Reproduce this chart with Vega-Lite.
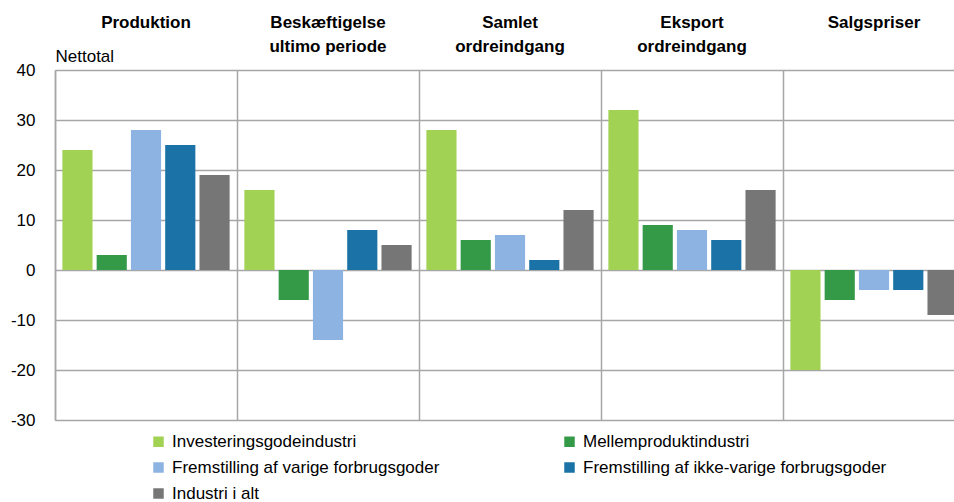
{
  "$schema": "https://vega.github.io/schema/vega-lite/v6.json",
  "width": 899,
  "height": 350,
  "autosize": {"type": "none"},
  "padding": {"left": 55, "top": 70, "right": 0, "bottom": 82},
  "background": "white",
  "config": {"font": "Liberation Sans", "view": {"stroke": null}},
  "data": {
    "values": [
      {"gruppe": "Produktion", "serie": "Investeringsgodeindustri", "vaerdi": 24},
      {"gruppe": "Produktion", "serie": "Mellemproduktindustri", "vaerdi": 3},
      {"gruppe": "Produktion", "serie": "Fremstilling af varige forbrugsgoder", "vaerdi": 28},
      {"gruppe": "Produktion", "serie": "Fremstilling af ikke-varige forbrugsgoder", "vaerdi": 25},
      {"gruppe": "Produktion", "serie": "Industri i alt", "vaerdi": 19},
      {"gruppe": "Beskæftigelse ultimo periode", "serie": "Investeringsgodeindustri", "vaerdi": 16},
      {"gruppe": "Beskæftigelse ultimo periode", "serie": "Mellemproduktindustri", "vaerdi": -6},
      {"gruppe": "Beskæftigelse ultimo periode", "serie": "Fremstilling af varige forbrugsgoder", "vaerdi": -14},
      {"gruppe": "Beskæftigelse ultimo periode", "serie": "Fremstilling af ikke-varige forbrugsgoder", "vaerdi": 8},
      {"gruppe": "Beskæftigelse ultimo periode", "serie": "Industri i alt", "vaerdi": 5},
      {"gruppe": "Samlet ordreindgang", "serie": "Investeringsgodeindustri", "vaerdi": 28},
      {"gruppe": "Samlet ordreindgang", "serie": "Mellemproduktindustri", "vaerdi": 6},
      {"gruppe": "Samlet ordreindgang", "serie": "Fremstilling af varige forbrugsgoder", "vaerdi": 7},
      {"gruppe": "Samlet ordreindgang", "serie": "Fremstilling af ikke-varige forbrugsgoder", "vaerdi": 2},
      {"gruppe": "Samlet ordreindgang", "serie": "Industri i alt", "vaerdi": 12},
      {"gruppe": "Eksport ordreindgang", "serie": "Investeringsgodeindustri", "vaerdi": 32},
      {"gruppe": "Eksport ordreindgang", "serie": "Mellemproduktindustri", "vaerdi": 9},
      {"gruppe": "Eksport ordreindgang", "serie": "Fremstilling af varige forbrugsgoder", "vaerdi": 8},
      {"gruppe": "Eksport ordreindgang", "serie": "Fremstilling af ikke-varige forbrugsgoder", "vaerdi": 6},
      {"gruppe": "Eksport ordreindgang", "serie": "Industri i alt", "vaerdi": 16},
      {"gruppe": "Salgspriser", "serie": "Investeringsgodeindustri", "vaerdi": -20},
      {"gruppe": "Salgspriser", "serie": "Mellemproduktindustri", "vaerdi": -6},
      {"gruppe": "Salgspriser", "serie": "Fremstilling af varige forbrugsgoder", "vaerdi": -4},
      {"gruppe": "Salgspriser", "serie": "Fremstilling af ikke-varige forbrugsgoder", "vaerdi": -4},
      {"gruppe": "Salgspriser", "serie": "Industri i alt", "vaerdi": -9}
    ]
  },
  "mark": {"type": "bar"},
  "encoding": {
    "x": {
      "field": "gruppe",
      "type": "nominal",
      "sort": ["Produktion", "Beskæftigelse ultimo periode", "Samlet ordreindgang", "Eksport ordreindgang", "Salgspriser"],
      "scale": {"paddingInner": 0, "paddingOuter": 0, "range": [0, 910]},
      "axis": {
        "orient": "top",
        "title": null,
        "bandPosition": 0,
        "grid": true,
        "gridColor": "#a6a6a6",
        "gridWidth": 1.5,
        "domain": false,
        "ticks": false,
        "tickSize": 0,
        "labelAngle": 0,
        "labelBaseline": "top",
        "labelPadding": 56,
        "labelFontSize": 17,
        "labelFontWeight": "bold",
        "labelLineHeight": 24,
        "labelColor": "black",
        "labelLimit": 0,
        "labelExpr": "datum.value == 'Beskæftigelse ultimo periode' ? ['Beskæftigelse', 'ultimo periode'] : datum.value == 'Samlet ordreindgang' ? ['Samlet', 'ordreindgang'] : datum.value == 'Eksport ordreindgang' ? ['Eksport', 'ordreindgang'] : datum.value"
      }
    },
    "xOffset": {
      "field": "serie",
      "type": "nominal",
      "sort": ["Investeringsgodeindustri", "Mellemproduktindustri", "Fremstilling af varige forbrugsgoder", "Fremstilling af ikke-varige forbrugsgoder", "Industri i alt"],
      "scale": {"paddingInner": 0.12, "paddingOuter": 0.215}
    },
    "y": {
      "field": "vaerdi",
      "type": "quantitative",
      "scale": {"domain": [-30, 40], "nice": false},
      "axis": {
        "values": [-30, -20, -10, 0, 10, 20, 30, 40],
        "labelExpr": "toString(datum.value)",
        "title": "Nettotal",
        "titleAngle": 0,
        "titleAlign": "left",
        "titleBaseline": "alphabetic",
        "titleX": 0,
        "titleY": -9,
        "titleFontSize": 17,
        "titleFontWeight": "normal",
        "titleColor": "black",
        "grid": true,
        "gridColor": "#a6a6a6",
        "gridWidth": 1.5,
        "domainColor": "#a6a6a6",
        "domainWidth": 1.5,
        "ticks": false,
        "labelPadding": 20,
        "labelFontSize": 17,
        "labelColor": "black"
      }
    },
    "color": {
      "field": "serie",
      "type": "nominal",
      "scale": {
        "domain": ["Investeringsgodeindustri", "Mellemproduktindustri", "Fremstilling af varige forbrugsgoder", "Fremstilling af ikke-varige forbrugsgoder", "Industri i alt"],
        "range": ["#a2d254", "#359a48", "#8db3e2", "#1a72a6", "#767676"]
      },
      "legend": {
        "orient": "none",
        "direction": "horizontal",
        "legendX": 95,
        "legendY": 363,
        "columns": 2,
        "columnPadding": 121,
        "rowPadding": 8,
        "title": null,
        "symbolType": "square",
        "symbolSize": 110,
        "symbolStrokeWidth": 0,
        "labelFontSize": 17,
        "labelColor": "black",
        "labelLimit": 0,
        "labelOffset": 5,
        "padding": 0
      }
    }
  }
}
